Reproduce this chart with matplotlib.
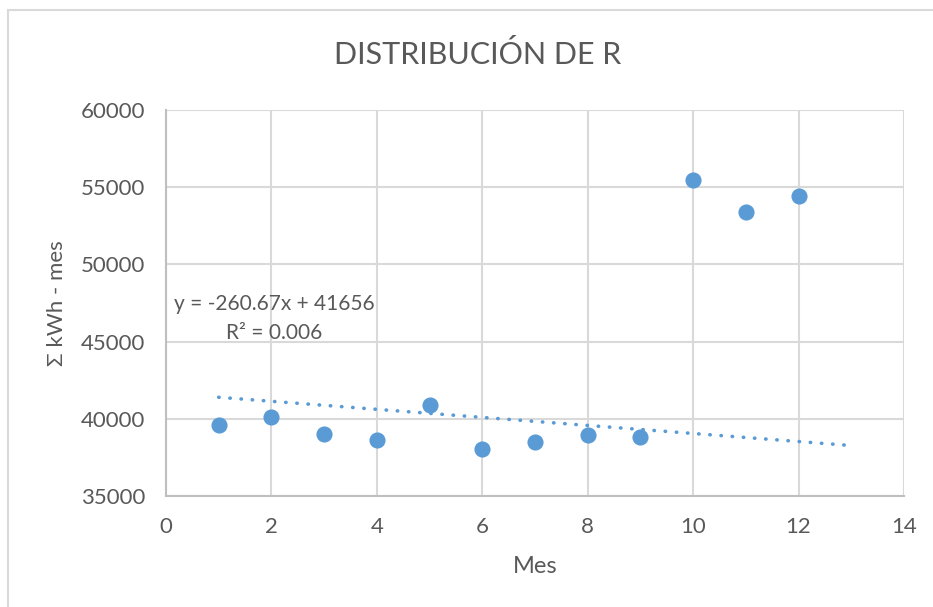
import matplotlib
matplotlib.use("Agg")
import matplotlib.pyplot as plt
from matplotlib.patches import Rectangle
import numpy as np

# data
mes = [1, 2, 3, 4, 5, 6, 7, 8, 9, 10, 11, 12]
kwh = [39590, 40130, 38990, 38600, 40890, 38030, 38490, 38920, 38830, 55480, 53420, 54400]

# trendline as printed on the chart
slope = -260.67
intercept = 41656
trend_x = [1, 13]
eq_text = "y = -260.67x + 41656"
r2_text = "R² = 0.006"

blue = "#5B9BD5"
grey_txt = "#595959"
grid_c = "#D9D9D9"

plt.rcParams['font.family'] = ['Lato', 'DejaVu Sans']

fig = plt.figure(figsize=(9.33, 6.07), dpi=100)
ax = fig.add_axes([166/933, 1-496/607, (904-166)/933, (496-110)/607])

# outer chart border
fig.patches.append(Rectangle((8/933, -0.1), 1.2, 1-9.5/607+0.1, transform=fig.transFigure,
                             fill=False, edgecolor=grid_c, linewidth=1.5))

tx = np.array(trend_x)
ax.plot(tx, slope*tx + intercept, color=blue, linestyle=(0, (0.1, 3.0)),
        linewidth=2.6, dash_capstyle='round', zorder=2)
ax.scatter(mes, kwh, s=135, color=blue, zorder=3, linewidths=0)

ax.set_xlim(0, 14)
ax.set_ylim(35000, 60000)
ax.set_xticks(range(0, 15, 2))
ax.set_yticks(range(35000, 60001, 5000))
ax.grid(True, color=grid_c, linewidth=1.5)
ax.set_axisbelow(True)
for side in ['top', 'right']:
    ax.spines[side].set_visible(False)
for side in ['left', 'bottom']:
    ax.spines[side].set_color("#BFBFBF")
    ax.spines[side].set_linewidth(1.5)
ax.tick_params(length=0, labelsize=16, labelcolor=grey_txt)
ax.tick_params(axis='x', pad=15)
ax.tick_params(axis='y', pad=15)

ax.set_xlabel("Mes", fontsize=17, color=grey_txt, labelpad=14)
ax.set_ylabel("Σ kWh - mes", fontsize=16, color=grey_txt, labelpad=10)
fig.text(478/933, 1-55/607, "DISTRIBUCIÓN DE R", fontsize=22, color=grey_txt,
         ha='center', va='center')

ax.text(274/933, 1-304/607, eq_text, transform=fig.transFigure, fontsize=15,
        color=grey_txt, ha='center', va='center')
ax.text(274/933, 1-333/607, r2_text, transform=fig.transFigure, fontsize=15,
        color=grey_txt, ha='center', va='center')

fig.savefig("out.png", dpi=100)
